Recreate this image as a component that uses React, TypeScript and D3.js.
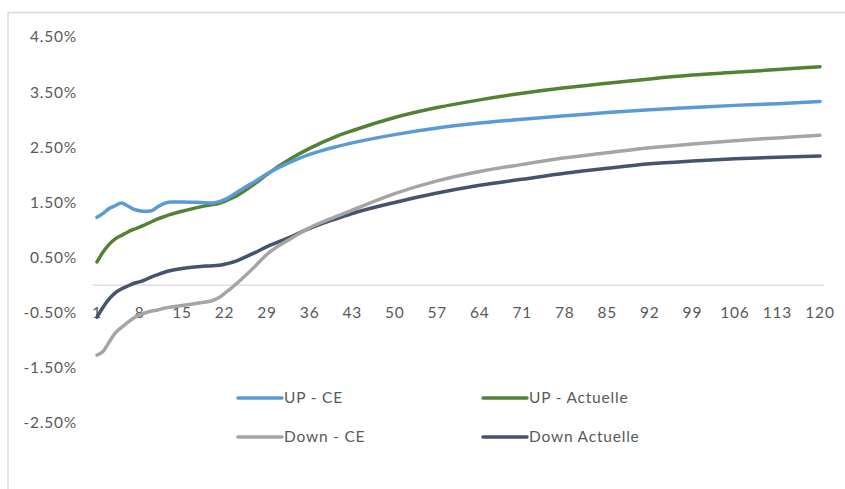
import React from "react";
import * as d3 from "d3";

const periods = [1,2,3,4,5,6,7,8,9,10,11,12,13,15,18,20,21,22,24,25,27,29,33,36,40,43,50,57,64,71,78,85,92,99,106,113,120];

const upCE = [1.23,1.30,1.39,1.44,1.49,1.44,1.38,1.35,1.34,1.35,1.42,1.48,1.51,1.51,1.50,1.49,1.51,1.55,1.68,1.75,1.88,2.02,2.24,2.37,2.50,2.58,2.73,2.85,2.94,3.01,3.07,3.13,3.18,3.22,3.26,3.29,3.33];
const upActuelle = [0.42,0.60,0.74,0.84,0.90,0.96,1.01,1.05,1.10,1.15,1.20,1.24,1.28,1.34,1.42,1.46,1.48,1.52,1.62,1.69,1.84,2.01,2.30,2.48,2.68,2.80,3.04,3.22,3.36,3.48,3.58,3.66,3.74,3.81,3.86,3.91,3.96];
const downCE = [-1.27,-1.20,-1.03,-0.87,-0.77,-0.68,-0.60,-0.54,-0.50,-0.47,-0.45,-0.42,-0.40,-0.37,-0.32,-0.28,-0.23,-0.15,0.03,0.13,0.34,0.56,0.85,1.04,1.23,1.36,1.66,1.89,2.06,2.19,2.31,2.40,2.49,2.56,2.62,2.67,2.72];
const downActuelle = [-0.58,-0.40,-0.25,-0.14,-0.07,-0.02,0.03,0.06,0.10,0.15,0.19,0.23,0.26,0.30,0.34,0.35,0.36,0.38,0.44,0.49,0.59,0.70,0.88,1.03,1.19,1.30,1.50,1.67,1.81,1.92,2.03,2.12,2.20,2.25,2.29,2.32,2.34];

const xTickLabels = [1,8,15,22,29,36,43,50,57,64,71,78,85,92,99,106,113,120];
const yTickLabels = [4.5,3.5,2.5,1.5,0.5,-0.5,-1.5,-2.5];

const seriesNames = ["UP - CE", "UP - Actuelle", "Down - CE", "Down Actuelle"];
const seriesColors = ["#5B9BD5", "#548235", "#A5A5A5", "#44546A"];
const seriesValues = [upCE, upActuelle, downCE, downActuelle];

const W = 845, H = 489;
const FONT = "Lato, 'Open Sans', sans-serif";
const FS = 15.5;
const LS = 0.8;
const TXT = "#595959";

export default function App() {
  const x = d3.scaleLinear().domain([1, 120]).range([97, 820]);
  const y = d3.scaleLinear().domain([-2.5, 4.5]).range([423, 37]);
  const line = d3.line<[number, number]>()
    .x(d => x(d[0]))
    .y(d => y(d[1]))
    .curve(d3.curveMonotoneX);

  const order = [3, 2, 1, 0];

  const legendPos = [
    { lx: 238, ly: 398 },
    { lx: 483, ly: 398 },
    { lx: 238, ly: 437 },
    { lx: 483, ly: 437 },
  ];

  return (
    <svg width={W} height={H} style={{ position: "absolute", left: 0, top: 0, background: "#fff" }}>
      <rect x={0} y={0} width={W} height={H} fill="#fff" />
      <line x1={8} x2={W} y1={12.5} y2={12.5} stroke="#D9D9D9" strokeWidth={1.5} />
      <line x1={8} x2={8} y1={12} y2={H} stroke="#D9D9D9" strokeWidth={1.5} />

      {yTickLabels.map(v => (
        <text key={v} x={77} y={y(v)} dy="0.35em" textAnchor="end" fontFamily={FONT} fontSize={FS} letterSpacing={LS} fill={TXT}>
          {v.toFixed(2) + "%"}
        </text>
      ))}

      <line x1={x(1) - 4} x2={x(120) + 4} y1={y(0)} y2={y(0)} stroke="#D9D9D9" strokeWidth={1.2} />

      {xTickLabels.map(v => (
        <text key={v} x={x(v)} y={313} dy="0.35em" textAnchor="middle" fontFamily={FONT} fontSize={FS} letterSpacing={LS} fill={TXT}>
          {v}
        </text>
      ))}

      {order.map(i => (
        <path
          key={seriesNames[i]}
          d={line(periods.map((p, k) => [p, seriesValues[i][k]] as [number, number])) || ""}
          fill="none"
          stroke={seriesColors[i]}
          strokeWidth={3.5}
          strokeLinecap="round"
          strokeLinejoin="round"
        />
      ))}

      {seriesNames.map((name, i) => (
        <g key={name}>
          <line x1={legendPos[i].lx} x2={legendPos[i].lx + 44} y1={legendPos[i].ly} y2={legendPos[i].ly}
            stroke={seriesColors[i]} strokeWidth={3.5} strokeLinecap="round" />
          <text x={legendPos[i].lx + 46} y={legendPos[i].ly} dy="0.35em" fontFamily={FONT} fontSize={FS} letterSpacing={LS} fill={TXT}>
            {name}
          </text>
        </g>
      ))}
    </svg>
  );
}
